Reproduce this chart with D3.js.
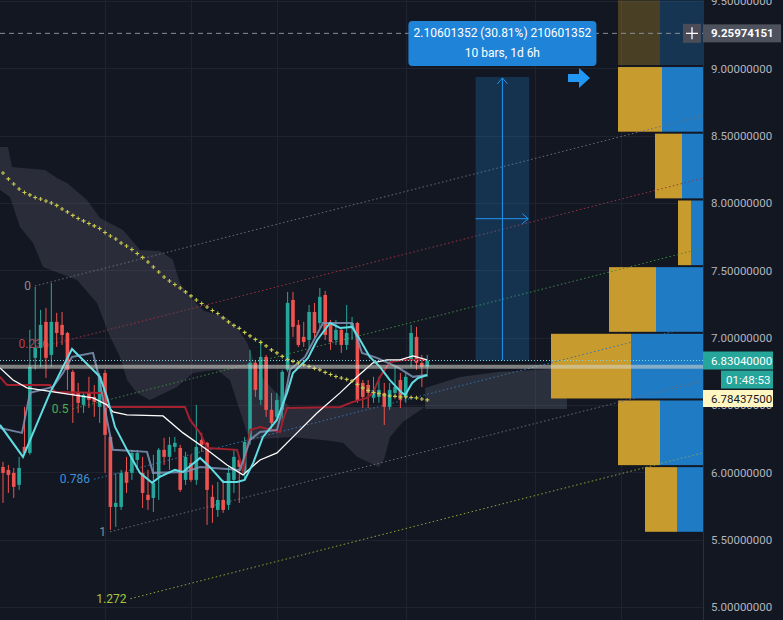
<!DOCTYPE html>
<html><head><meta charset="utf-8">
<script src="https://cdn.jsdelivr.net/npm/d3@7"></script>
<style>
html,body{margin:0;padding:0;background:#131722;overflow:hidden;}
svg{display:block;}
text{font-family:Roboto,"Liberation Sans",sans-serif;}
</style></head><body>
<svg id="c" width="783" height="620"></svg>
<script>
// ---------------- DATA ----------------
const priceTicks = [9.5, 9.0, 8.5, 8.0, 7.5, 7.0, 6.5, 6.0, 5.5, 5.0];
const gridBars = [19, 35, 51, 75, 99, 115];

// [open, high, low, close] per bar
const ohlc = [
[6.040,6.078,5.773,5.996],[6.018,6.055,5.847,5.981],[5.996,6.033,5.810,5.892],[5.907,6.115,5.870,6.033],
[6.189,6.486,6.144,6.144],[6.144,7.058,6.130,6.783],[6.850,7.377,6.761,6.924],[6.924,7.206,6.783,7.095],
[7.117,7.221,6.701,6.850],[6.872,7.406,6.783,7.117],[7.117,7.184,6.931,7.035],[7.095,7.191,6.946,7.020],
[7.035,7.043,6.612,6.761],[6.746,6.761,6.367,6.575],[6.597,6.664,6.441,6.516],[6.501,6.590,6.441,6.575],
[6.590,6.709,6.478,6.538],[6.560,6.649,6.412,6.523],[6.486,6.738,6.367,6.709],[6.738,6.761,5.996,6.278],
[6.263,6.278,5.573,5.743],[5.743,5.996,5.595,5.773],[5.743,6.018,5.721,5.996],[6.003,6.115,5.847,5.922],
[5.996,6.167,5.944,6.144],[6.092,6.167,6.018,6.144],[5.996,6.115,5.736,5.847],[5.833,6.018,5.721,5.795],
[5.810,6.130,5.706,5.922],[5.966,6.181,5.795,6.167],[6.167,6.256,6.055,6.115],[6.115,6.263,6.018,6.204],
[6.189,6.263,6.152,6.219],[6.181,6.204,5.855,5.870],[5.944,6.152,5.907,6.115],[6.070,6.130,5.929,5.944],
[5.944,6.501,5.907,6.189],[6.241,6.293,6.152,6.204],[6.219,6.226,5.610,5.870],[5.818,5.907,5.625,5.736],
[5.721,5.929,5.669,5.795],[5.795,5.944,5.699,5.721],[5.758,6.040,5.721,5.996],[5.944,6.167,5.847,6.115],
[6.092,6.115,5.773,6.040],[5.996,6.263,5.944,6.226],[6.241,6.909,6.204,6.813],[6.813,6.835,6.560,6.612],
[6.538,6.983,6.501,6.857],[6.857,6.872,6.412,6.464],[6.464,6.590,6.315,6.367],[6.412,6.590,6.389,6.538],
[6.464,6.761,6.367,6.746],[6.761,7.340,6.746,7.258],[7.280,7.340,7.006,7.080],[7.095,7.132,6.931,6.946],
[7.006,7.117,6.931,6.968],[6.983,7.243,6.924,7.191],[7.191,7.258,6.998,7.035],[7.109,7.369,7.072,7.303],
[7.317,7.347,6.983,7.020],[7.109,7.132,6.909,6.968],[6.983,7.132,6.946,7.058],[7.058,7.080,6.887,6.946],
[6.946,7.243,6.909,7.035],[7.072,7.154,6.983,7.109],[7.109,7.117,6.516,6.538],[6.664,6.686,6.478,6.560],
[6.649,6.686,6.478,6.590],[6.553,6.709,6.516,6.612],[6.560,6.709,6.516,6.612],[6.590,6.664,6.352,6.486],
[6.486,6.664,6.464,6.612],[6.590,6.783,6.560,6.634],[6.686,6.738,6.478,6.538],[6.560,6.738,6.516,6.709],
[6.835,7.095,6.783,7.035],[7.006,7.080,6.761,6.813],[6.813,6.872,6.634,6.783],[6.783,6.872,6.709,6.830]
];

// indicator lines: [bar, price]
const cyanLine = [[-0.56,6.352],[3.72,6.115],[8.75,6.590],[12.85,6.916],[18.06,6.709],[19.37,6.560],[20.86,6.337],[23.09,6.167],[25.5,5.996],[27.75,5.922],[29.2,5.966],[32,6.018],[33.5,6.003],[36.7,6.107],[38.5,6.040],[41,5.929],[43.6,5.929],[45,5.944],[46.6,6.070],[48.4,6.263],[51,6.389],[52.9,6.590],[54,6.738],[56.8,6.850],[58.5,6.983],[60.9,7.109],[62.8,7.072],[65,7.080],[66.5,6.983],[68.3,6.857],[70.2,6.783],[72,6.686],[74.3,6.590],[74.9,6.575],[76.2,6.664],[77.3,6.701],[79,6.723]];
const baseLine = [[-0.56,6.330],[3.54,6.293],[5.03,6.590],[9.31,6.634],[11.17,6.738],[12.85,6.857],[16.76,6.887],[17.69,6.738],[19.37,6.389],[20.48,6.167],[26.82,6.152],[27.93,5.996],[33.89,6.003],[36.69,6.040],[44.13,6.018],[46.00,6.241],[47.86,6.300],[51.02,6.315],[52.14,6.486],[53.45,6.761],[56.24,6.857],[59.59,7.109],[64.99,7.109],[66.85,6.887],[69.65,6.850],[73.37,6.783],[76.35,6.709],[78.96,6.723]];
const whiteLine = [[-0.56,6.775],[1.86,6.686],[4.47,6.627],[10.61,6.590],[16.76,6.553],[19.37,6.501],[20.48,6.449],[23.09,6.427],[29.80,6.419],[33.52,6.293],[37.99,6.167],[41.71,6.055],[44.69,5.981],[47.86,6.092],[51.02,6.144],[54.75,6.293],[58.47,6.441],[62.76,6.590],[65.92,6.709],[68.90,6.813],[71.51,6.835],[73.93,6.835],[76.35,6.865],[78.96,6.835]];
const redLine = [[-0.56,6.709],[0.74,6.649],[8.75,6.649],[9.68,6.597],[18.62,6.590],[18.99,6.486],[33.89,6.486],[34.82,6.389],[36.69,6.293],[37.99,6.181],[43.58,6.167],[44.13,6.092],[44.69,5.996],[46.00,6.315],[47.86,6.337],[51.58,6.300],[52.14,6.389],[52.89,6.478],[62.76,6.486],[65.18,6.523],[67.78,6.553],[68.90,6.590],[70.20,6.709],[72.07,6.820],[74.49,6.835],[78.96,6.835]];
const yellowMA = [8.223,8.179,8.141,8.104,8.078,8.060,8.041,8.030,8.015,8.000,
7.982,7.956,7.934,7.908,7.885,7.867,7.848,7.830,7.811,7.781,
7.755,7.733,7.703,7.681,7.655,7.625,7.596,7.562,7.525,7.488,
7.451,7.421,7.395,7.369,7.340,7.310,7.280,7.254,7.228,7.202,
7.180,7.147,7.117,7.091,7.069,7.039,7.013,6.987,6.965,6.939,
6.909,6.887,6.861,6.838,6.824,6.812,6.798,6.786,6.772,6.761,
6.742,6.727,6.712,6.701,6.690,6.679,6.653,6.627,6.608,6.593,
6.586,6.575,6.568,6.564,6.560,6.560,6.556,6.553,6.545,6.538];

// cloud outlines [bar, price]
const cloudMain = [[-0.56,8.416],[0.93,8.416],[1.68,8.268],[7.82,8.245],[10.06,8.186],[11.92,8.149],[15.64,8.023],[18.06,7.889],[22.35,7.800],[25.51,7.651],[29.2,7.644],[31.6,7.580],[33.0,7.400],[35.0,7.295],[37.4,7.200],[41.71,7.147],[43.58,7.070],[45.4,6.970],[46.6,6.838],[47.86,6.720],[52.14,6.538],[53.45,6.486],[72.07,6.486],[78.6,6.486],[74.5,6.375],[72.07,6.263],[71.0,6.10],[70.0,6.040],[65.92,6.115],[63.31,6.219],[59.59,6.241],[53.45,6.263],[46.00,6.241],[45.44,6.293],[42.27,6.686],[39.85,6.761],[35.38,6.738],[32.40,6.634],[27.37,6.538],[24.95,6.590],[23.09,6.686],[21.79,6.857],[19.93,7.006],[17.50,7.258],[13.78,7.429],[7.45,7.525],[5.59,7.704],[3.17,7.822],[1.30,8.045],[-0.56,8.097]];
const cloudFuture = [[78.6,6.627],[85.1,6.708],[92.5,6.746],[105.03,6.775],[105.03,6.470],[78.6,6.470]];

// fib channel
const fibLevels = [0, 0.236, 0.5, 0.786, 1, 1.272];
const fibLineColors = ["#6b6e78","#9a3444","#3d8c42","#3474ad","#6b6e78","#93a536"];
const fibTextColors = ["#8a8d96","#b8404f","#4caf50","#3d8fd6","#8a8d96","#a8c43c"];
const fibStart0 = [5.96, 7.384];   // level 0 start
const fibTrend0 = [100, 8.340];    // another point on level 0
const fibStart1 = [19.93, 5.558];  // level 1 start

// volume profile (rows from bottom)
const vpRowLows = [5.551, 6.046, 6.541, 7.036, 7.531, 8.027, 8.522, 9.017];
const vpRowStep = 0.4951;
const vpUp   = [32, 42, 80, 47, 13, 27, 44, 42];
const vpDown = [26, 43, 72, 47, 12, 21, 41, 43];
const vpInValueArea = [1, 1, 1, 1, 1, 1, 1, 0];

// measure tool
const measureFrom = [88, 6.8304];
const measureTo = [98, 8.93641352];
const measureText = ["2.10601352 (30.81%) 210601352", "10 bars, 1d 6h"];

const lastPrice = 6.8304, lastLabel = "6.83040000", countdown = "01:48:53";
const hlinePrice = 6.784375, hlineLabel = "6.78437500";
const crossPrice = 9.25974151, crossLabel = "9.25974151";

// ---------------- DRAW ----------------
const W = 783, H = 620, plotR = 703;
const svg = d3.select("#c");
const x = d3.scaleLinear().domain([0, 130]).range([3, 3 + 5.37 * 130]);
const y = d3.scaleLinear().domain([5, 9.5]).range([607, 1]);
const xEnd = x.invert(plotR);

svg.append("rect").attr("width", W).attr("height", H).attr("fill", "#131722");

const plot = svg.append("g");
plot.append("defs").append("clipPath").attr("id","pc").append("rect").attr("width", plotR).attr("height", H);
const g = plot.append("g").attr("clip-path","url(#pc)");

// grid
g.selectAll(".hg").data(priceTicks).join("line")
  .attr("x1",0).attr("x2",plotR).attr("y1",d=>Math.round(y(d))+0.5).attr("y2",d=>Math.round(y(d))+0.5)
  .attr("stroke","#1f2330").attr("stroke-width",1);
g.selectAll(".vg").data(gridBars).join("line")
  .attr("y1",0).attr("y2",H).attr("x1",d=>Math.round(x(d))+0.5).attr("x2",d=>Math.round(x(d))+0.5)
  .attr("stroke","#1f2330").attr("stroke-width",1);

// cloud
const poly = d3.line().x(d=>x(d[0])).y(d=>y(d[1]));
g.append("path").attr("d", poly(cloudMain)+"Z").attr("fill","rgba(145,140,160,0.19)");
g.append("path").attr("d", poly(cloudFuture)+"Z").attr("fill","rgba(140,150,168,0.2)");

// volume profile
const vpTot = vpUp.map((u,i)=>u+vpDown[i]);
const vw = d3.scaleLinear().domain([0, d3.max(vpTot)]).range([0, 152]);
vpRowLows.forEach((lo,i)=>{
  const y1 = y(lo+vpRowStep)+1, y2 = y(lo)-1;
  const op = vpInValueArea[i] ? 1 : 0.3;
  g.append("rect").attr("x", plotR - vw(vpTot[i])).attr("y", y1).attr("width", vw(vpUp[i])).attr("height", y2-y1)
    .attr("fill","#c79b2d").attr("opacity", op);
  g.append("rect").attr("x", plotR - vw(vpDown[i])).attr("y", y1).attr("width", vw(vpDown[i])).attr("height", y2-y1)
    .attr("fill","#1f7bc4").attr("opacity", op);
});

// fib channel
const slope = (fibTrend0[1]-fibStart0[1])/(fibTrend0[0]-fibStart0[0]);
fibLevels.forEach((L,i)=>{
  const b0 = fibStart0[0] + L*(fibStart1[0]-fibStart0[0]);
  const p0 = fibStart0[1] + L*(fibStart1[1]-fibStart0[1]);
  const p1 = p0 + slope*(xEnd-b0);
  g.append("line").attr("x1",x(b0)).attr("y1",y(p0)).attr("x2",x(xEnd)).attr("y2",y(p1))
    .attr("stroke",fibLineColors[i]).attr("stroke-width",1).attr("stroke-dasharray","1.5,2.5");
  g.append("text").attr("x",x(b0)-4).attr("y",y(p0)).attr("dy","0.35em").attr("text-anchor","end")
    .attr("font-size","12px").attr("fill",fibTextColors[i]).text(String(L));
});

// measure tool
const mx1 = x(measureFrom[0]), mx2 = x(measureTo[0]), my1 = y(measureFrom[1]), my2 = y(measureTo[1]);
g.append("rect").attr("x",mx1).attr("y",my2).attr("width",mx2-mx1).attr("height",my1-my2).attr("fill","rgba(33,150,243,0.22)");
const mcx = (mx1+mx2)/2, mcy = (my1+my2)/2;
g.append("line").attr("x1",mcx).attr("x2",mcx).attr("y1",my1).attr("y2",my2+1).attr("stroke","#2196f3");
g.append("path").attr("d",`M${mcx-5},${my2+7}L${mcx},${my2+1}L${mcx+5},${my2+7}`).attr("fill","none").attr("stroke","#2196f3");
g.append("line").attr("x1",mx1).attr("x2",mx2-1).attr("y1",mcy).attr("y2",mcy).attr("stroke","#2196f3");
g.append("path").attr("d",`M${mx2-7},${mcy-5}L${mx2-1},${mcy}L${mx2-7},${mcy+5}`).attr("fill","none").attr("stroke","#2196f3");

// candles
const up = "#26a69a", dn = "#ef5350";
const cg = g.append("g");
ohlc.forEach((d,i)=>{
  const [o,h,l,c] = d; const col = c>=o?up:dn; const cx = x(i);
  cg.append("line").attr("x1",cx).attr("x2",cx).attr("y1",y(h)).attr("y2",y(l)).attr("stroke",col).attr("stroke-width",1);
  const t = y(Math.max(o,c)), b = y(Math.min(o,c));
  cg.append("rect").attr("x",cx-1.8).attr("width",3.6).attr("y",t).attr("height",Math.max(1,b-t)).attr("fill",col);
});

// indicator lines
const ln = d3.line().x(d=>x(d[0])).y(d=>y(d[1]));
g.append("path").attr("d",ln(redLine)).attr("fill","none").attr("stroke","#a3202e").attr("stroke-width",2);
g.append("path").attr("d",ln(baseLine)).attr("fill","none").attr("stroke","#7f93b3").attr("stroke-width",2).attr("opacity",0.85);
g.append("path").attr("d",ln(whiteLine)).attr("fill","none").attr("stroke","#ffffff").attr("stroke-width",1.3);
g.append("path").attr("d",ln(cyanLine)).attr("fill","none").attr("stroke","#5fdde3").attr("stroke-width",2);

// yellow cross MA
const yc = g.append("g").attr("stroke","#c8c94e").attr("stroke-width",1.1);
yellowMA.forEach((v,i)=>{
  const cx = x(i), cy = y(v);
  yc.append("path").attr("d",`M${cx-2},${cy}H${cx+2}M${cx},${cy-2}V${cy+2}`);
});

// horizontal highlight line + price line
g.append("line").attr("x1",0).attr("x2",plotR).attr("y1",y(hlinePrice)).attr("y2",y(hlinePrice))
  .attr("stroke","rgba(215,215,205,0.55)").attr("stroke-width",4);
g.append("line").attr("x1",0).attr("x2",plotR).attr("y1",y(lastPrice)).attr("y2",y(lastPrice))
  .attr("stroke","#7fd6e3").attr("stroke-width",1).attr("stroke-dasharray","1,2");

// crosshair
g.append("line").attr("x1",0).attr("x2",plotR).attr("y1",y(crossPrice)).attr("y2",y(crossPrice))
  .attr("stroke","#8a8d96").attr("stroke-width",1).attr("stroke-dasharray","5,4");

// tooltip
const tt = svg.append("g");
tt.append("rect").attr("x",mcx-94).attr("y",21).attr("width",188).attr("height",45).attr("rx",4).attr("fill","#1f84d8");
tt.append("text").attr("x",mcx).attr("y",33).attr("dy","0.35em").attr("text-anchor","middle").attr("fill","#ffffff")
  .attr("font-size","12px").text(measureText[0]);
tt.append("text").attr("x",mcx).attr("y",53).attr("dy","0.35em").attr("text-anchor","middle").attr("fill","#ffffff")
  .attr("font-size","12px").text(measureText[1]);

// scroll arrow button
svg.append("path").attr("d","M568,74H579V68L590,78L579,88V82H568Z").attr("fill","#2196f3");

// plus button at crosshair
const cyy = y(crossPrice);
svg.append("rect").attr("x",683).attr("y",cyy-9.5).attr("width",18).attr("height",19).attr("fill","#4a4d58");
svg.append("path").attr("d",`M${686},${cyy}H${698}M${692},${cyy-6}V${cyy+6}`).attr("stroke","#ffffff").attr("stroke-width",1.3);

// price axis
svg.append("line").attr("x1",plotR+0.5).attr("x2",plotR+0.5).attr("y1",0).attr("y2",H).attr("stroke","#2a2e39");
const axis = d3.axisRight(y).tickValues(priceTicks).tickFormat(d3.format(".8f")).tickSize(0).tickPadding(8);
svg.append("g").attr("transform",`translate(${plotR},0)`).call(axis)
  .call(a=>a.select(".domain").remove())
  .call(a=>a.selectAll("text").attr("fill","#b2b5be").attr("font-size","11.5px").attr("font-family","Roboto"));

function tag(yc, x0, x1, h, bg, fg, txt, bold){
  svg.append("rect").attr("x",x0).attr("y",yc-h/2).attr("width",x1-x0).attr("height",h).attr("fill",bg);
  svg.append("text").attr("x",x0+ (x0<706?8:5)).attr("y",yc).attr("dy","0.35em").attr("fill",fg)
    .attr("font-size","11.5px").attr("font-weight",bold?"bold":"normal").text(txt);
}
tag(cyy, 703, 781, 18, "#4e525d", "#ffffff", crossLabel, true);
tag(y(lastPrice), 703, 773, 18, "#26a69a", "#ffffff", lastLabel, false);
tag(y(lastPrice)+19, 721, 773, 18, "#26a69a", "#ffffff", countdown, false);
tag(y(lastPrice)+38, 703, 773, 17, "#fff6c2", "#131722", hlineLabel, false);
</script>
</body></html>
